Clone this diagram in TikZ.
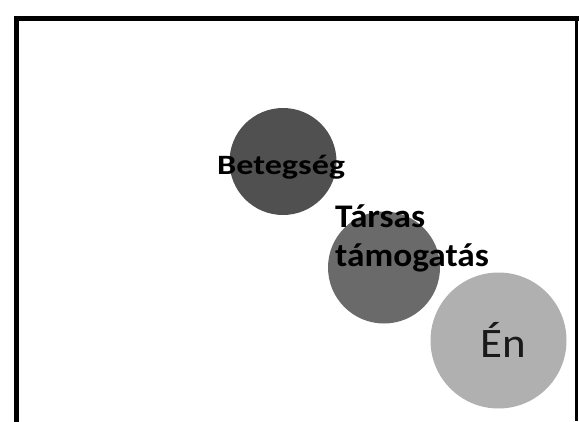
\documentclass[tikz,border=0pt]{standalone}
\usepackage{fontspec}
\setmainfont{Carlito}
\newfontfamily\tagfont[FakeStretch=1.07]{Carlito}
\newfontfamily\widetagfont[FakeStretch=1.22]{Carlito}
\usetikzlibrary{positioning}
\definecolor{darkdisc}{RGB}{80,80,80}
\definecolor{middisc}{RGB}{106,106,106}
\definecolor{lightdisc}{RGB}{176,176,176}
\tikzstyle{disc} = [circle, inner sep=0pt, draw=none]
\tikzstyle{tag} = [inner sep=0pt, text=black, anchor=base west]
\tikzstyle{frame} = [line cap=rect]

\begin{document}
\begin{tikzpicture}[x=1pt,y=-1pt]
  \useasboundingbox (0,0) rectangle (579,421);
  \draw[frame, line width=5pt] (16,421) -- (16,18) -- (579,18);
  \draw[line width=2.5pt] (576.5,18) -- (576.5,421);
  \node (beteg)[disc, fill=darkdisc, minimum size=107pt] at (283,161.5) {};
  \node (tarsas)[disc, fill=middisc, minimum size=112pt] at (384,267.5) {};
  \node (en)[disc, fill=lightdisc, minimum size=136pt] at (498.5,340.5) {};
  \node (betegtext)[tag, font=\widetagfont\bfseries\fontsize{28}{30}\selectfont] at (217,174) {Betegség};
  \node (tarsastext)[tag, font=\tagfont\bfseries\fontsize{33}{39}\selectfont, align=left] at (335,266) {Társas\\támogatás};
  \node (entext)[tag, font=\tagfont\fontsize{42}{44}\selectfont, text=black!90] at (480,357) {Én};
\end{tikzpicture}
\end{document}
